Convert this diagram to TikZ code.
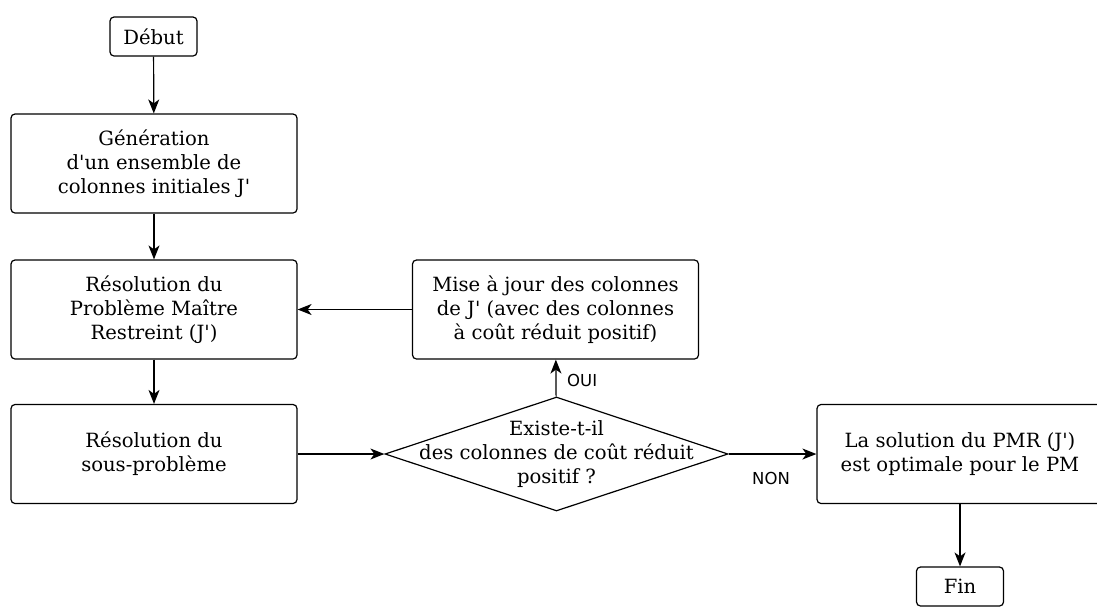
\documentclass[tikz,border=0pt]{standalone}
\usepackage{fontspec}
\setmainfont{DejaVu Serif}
\newfontfamily\labelfont{DejaVu Sans}
\usetikzlibrary{shapes.geometric,arrows.meta}
\newcommand{\q}{\textquotesingle}
\begin{document}
\begin{tikzpicture}[x=1pt,y=-1pt,
  txt/.style={font=\fontsize{19.6}{24.2}\selectfont, align=center, inner sep=0pt},
  box/.style={txt, draw, rounded corners=4pt, line width=1.2pt},
  rbox/.style={box, minimum width=286pt, minimum height=99pt},
  tbox/.style={box, minimum width=87pt, minimum height=39pt},
  arr/.style={draw, line width=1.2pt, -{Stealth[length=14pt,width=11pt,inset=4pt]}},
  lab/.style={font=\labelfont\fontsize{16.5}{19}\selectfont, inner sep=0pt}
]
\useasboundingbox (0,0) rectangle (1097,606);
\node[tbox] (debut) at (153.5,36.5) {Début};
\node[rbox] (gen) at (154,163.5) {Génération\\d\q un ensemble de\\colonnes initiales J\q};
\node[rbox] (pmr) at (154,309.5) {Résolution du\\Problème Maître\\ Restreint (J\q)};
\node[rbox] (sp) at (154,454) {Résolution du\\sous-problème};
\node[rbox] (maj) at (555.5,309.5) {Mise à jour des colonnes\\de J\q{} (avec des colonnes\\ à coût réduit positif)};
\node[draw, line width=1.2pt, diamond, minimum width=343pt, minimum height=114pt, inner sep=0pt] (q) at (556.5,454) {};
\node[txt] (qt) at (q.center) {Existe-t-il\\des colonnes de coût réduit\\positif ?};
\node[rbox] (sol) at (960,454) {La solution du PMR (J\q)\\est optimale pour le PM};
\node[tbox] (fin) at (960,586.5) {Fin};
\draw[arr] (debut) -- (gen);
\draw[arr] (gen) -- (pmr);
\draw[arr] (pmr) -- (sp);
\draw[arr] (sp) -- (q);
\draw[arr] (q) -- (maj);
\draw[arr] (maj) -- (pmr);
\draw[arr] (q) -- (sol);
\draw[arr] (sol) -- (fin);
\node[lab, anchor=west] (oui) at (567,380) {OUI};
\node[lab] (non) at (771,478) {NON};
\end{tikzpicture}
\end{document}
